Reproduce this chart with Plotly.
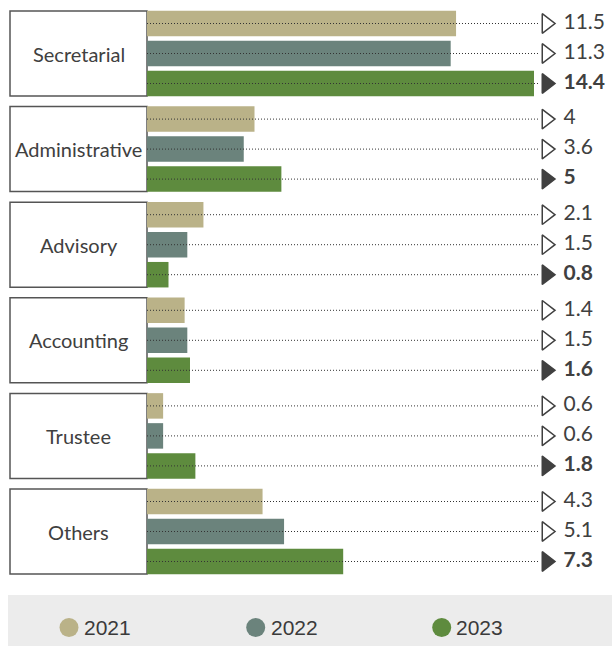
import plotly.graph_objects as go

# ---- data ----
categories = ["Secretarial", "Administrative", "Advisory", "Accounting", "Trustee", "Others"]
years = ["2021", "2022", "2023"]
values_2021 = [11.5, 4, 2.1, 1.4, 0.6, 4.3]
values_2022 = [11.3, 3.6, 1.5, 1.5, 0.6, 5.1]
values_2023 = [14.4, 5, 0.8, 1.6, 1.8, 7.3]
series = [values_2021, values_2022, values_2023]
colors = ["#bab288", "#6b837c", "#5e8b3e"]

# ---- layout geometry (pixels) ----
W, H = 612, 646
PX_PER_UNIT = 26.875
X0_PX = 147
GROUP_PX = 95.6
FIRST_CENTER_PX = 53.5
BAR_PITCH = 30 / GROUP_PX
BAR_W = 25.5 / GROUP_PX
BOX_HALF = 42.5 / GROUP_PX


def px2x(p):
    return (p - X0_PX) / PX_PER_UNIT


xr = [px2x(0), px2x(W)]
yr = [(H - FIRST_CENTER_PX) / GROUP_PX, -FIRST_CENTER_PX / GROUP_PX]
LINE_END = px2x(540)
MARK_X = px2x(546.5)
LABEL_X = px2x(563.5)
TEXT_COLOR = "#404040"

fig = go.Figure()

for k, (yr_name, vals) in enumerate(zip(years, series)):
    ys = [i + (k - 1) * BAR_PITCH for i in range(len(categories))]
    fig.add_trace(go.Bar(
        x=vals, y=ys, orientation="h", width=BAR_W,
        marker=dict(color=colors[k], line=dict(width=0)),
        name=yr_name, hoverinfo="x",
    ))

for k, (yr_name, vals) in enumerate(zip(years, series)):
    ys = [i + (k - 1) * BAR_PITCH for i in range(len(categories))]
    lx, ly = [], []
    for y in ys:
        lx += [0, LINE_END, None]
        ly += [y, y, None]
    fig.add_trace(go.Scatter(
        x=lx, y=ly, mode="lines",
        line=dict(color="#333333", width=1, dash="1px,2px"),
        hoverinfo="skip",
    ))
    bold = k == 2
    fig.add_trace(go.Scatter(
        x=[MARK_X] * len(vals), y=ys, mode="markers",
        marker=dict(symbol="triangle-right" if bold else "triangle-right-open",
                    size=17, color=TEXT_COLOR,
                    line=dict(width=1.5, color=TEXT_COLOR)),
        hoverinfo="skip",
    ))
    fig.add_trace(go.Scatter(
        x=[LABEL_X] * len(vals), y=ys, mode="text",
        text=[f"{v:g}" for v in vals], textposition="middle right",
        textfont=dict(family="Lato", size=21, color=TEXT_COLOR,
                      weight="bold" if bold else "normal"),
        hoverinfo="skip",
    ))

shapes = []
annotations = []
for i, cat in enumerate(categories):
    shapes.append(dict(type="rect", xref="x", yref="y",
                       x0=px2x(10), x1=0, y0=i - BOX_HALF, y1=i + BOX_HALF,
                       line=dict(color="#555555", width=1.5), fillcolor="white",
                       layer="below"))
    annotations.append(dict(x=px2x(78.5), y=i, xref="x", yref="y", text=cat,
                            showarrow=False,
                            font=dict(family="Lato", size=20, color=TEXT_COLOR)))

# legend band
shapes.append(dict(type="rect", xref="paper", yref="paper",
                   x0=8 / W, x1=1, y0=0, y1=1 - 595 / H,
                   line=dict(width=0), fillcolor="#ececec", layer="below"))
leg_cx = [69, 255.7, 441.7]
leg_tx = [82, 269, 454]
leg_cy, leg_r = 627.5, 9.5
for k, yr_name in enumerate(years):
    shapes.append(dict(type="circle", xref="paper", yref="paper",
                       x0=(leg_cx[k] - leg_r) / W, x1=(leg_cx[k] + leg_r) / W,
                       y0=1 - (leg_cy + leg_r) / H, y1=1 - (leg_cy - leg_r) / H,
                       line=dict(width=0), fillcolor=colors[k]))
    annotations.append(dict(x=leg_tx[k] / W, y=1 - leg_cy / H, xref="paper", yref="paper",
                            xanchor="left", yanchor="middle", text=yr_name, showarrow=False,
                            font=dict(family="Liberation Sans", size=21, color="#3a3a3a")))

fig.update_layout(
    width=W, height=H,
    margin=dict(l=0, r=0, t=0, b=0),
    paper_bgcolor="white", plot_bgcolor="white",
    showlegend=False,
    xaxis=dict(range=xr, visible=False, fixedrange=True),
    yaxis=dict(range=yr, visible=False, fixedrange=True),
    shapes=shapes, annotations=annotations,
)

fig.write_html("out.html", config={"displayModeBar": False},
               post_script="document.body.style.margin='0px';")
